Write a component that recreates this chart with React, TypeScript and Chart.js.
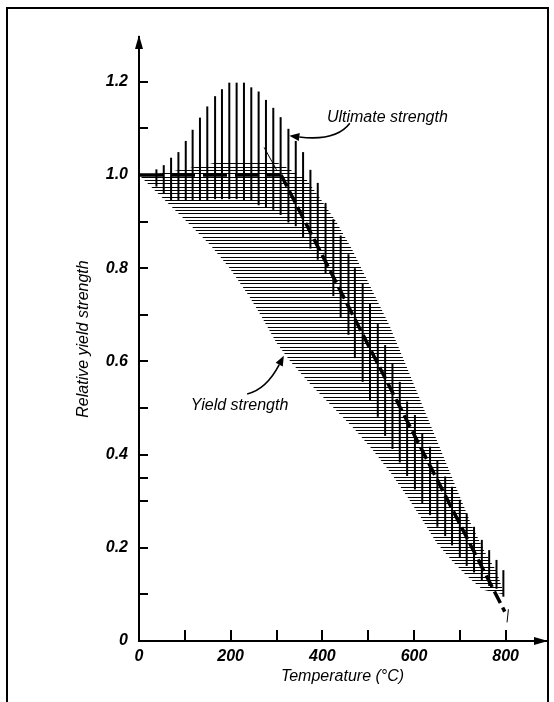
import React, { useEffect, useRef } from "react";
import { Chart, registerables } from "chart.js";

Chart.register(...registerables);

const FONT = '"Liberation Sans", Arial, Helvetica, sans-serif';

// Ultimate strength band: vertical hatch segments (temperature, low, high)
const ultimateTemps = [38, 54, 70, 86, 102, 117, 133, 149, 166, 181, 197, 213, 229, 245, 261, 277, 293, 309, 326, 342, 358, 374, 390, 407, 424, 440, 457, 471, 488, 504, 521, 537, 553, 569, 585, 602, 618, 635, 651, 668, 683, 700, 715, 731, 748, 764, 780, 795];
const ultimateHigh = [1.012, 1.021, 1.037, 1.049, 1.073, 1.097, 1.123, 1.147, 1.169, 1.184, 1.198, 1.198, 1.198, 1.188, 1.179, 1.161, 1.144, 1.124, 1.099, 1.073, 1.049, 1.011, 0.983, 0.94, 0.905, 0.87, 0.83, 0.8, 0.768, 0.725, 0.682, 0.635, 0.596, 0.556, 0.514, 0.485, 0.446, 0.417, 0.388, 0.353, 0.331, 0.303, 0.274, 0.245, 0.217, 0.195, 0.174, 0.152];
const ultimateLow = [0.975, 0.96, 0.945, 0.945, 0.945, 0.945, 0.945, 0.945, 0.948, 0.948, 0.948, 0.948, 0.945, 0.945, 0.935, 0.93, 0.925, 0.914, 0.898, 0.89, 0.866, 0.842, 0.818, 0.789, 0.74, 0.695, 0.657, 0.607, 0.556, 0.517, 0.481, 0.44, 0.412, 0.383, 0.354, 0.325, 0.296, 0.27, 0.245, 0.225, 0.205, 0.18, 0.161, 0.147, 0.13, 0.118, 0.112, 0.095];

// Yield strength band: upper and lower boundaries
const yieldUpperTemps = [0, 30, 122, 172, 300, 320, 340, 365, 395, 430, 465, 495, 525, 545, 575, 600, 625, 650, 675, 700, 725, 755, 780, 797];
const yieldUpperValues = [1.0, 1.0, 1.017, 1.027, 1.027, 1.017, 1.005, 0.99, 0.95, 0.9, 0.84, 0.78, 0.72, 0.68, 0.61, 0.55, 0.49, 0.43, 0.37, 0.31, 0.25, 0.19, 0.15, 0.1];
const yieldLowerTemps = [0, 52, 104, 155, 198, 240, 265, 300, 330, 375, 425, 470, 510, 550, 585, 615, 650, 685, 715, 750, 797];
const yieldLowerValues = [1.0, 0.95, 0.9, 0.85, 0.8, 0.74, 0.7, 0.64, 0.6, 0.55, 0.5, 0.455, 0.41, 0.36, 0.31, 0.265, 0.21, 0.17, 0.14, 0.11, 0.1];

// Dashed design curve
const trendTemps = [0, 310, 798];
const trendValues = [1.0, 1.0, 0.063];

// Axes
const xMax = 888;
const yMax = 1.296;
const xTickLabels = [0, 200, 400, 600, 800];
const xTickMarks = [100, 200, 300, 400, 500, 600, 700, 800];
const yTickLabels = [0, 0.2, 0.4, 0.6, 0.8, 1.0, 1.2];
const yTickMarks = [0.1, 0.2, 0.3, 0.35, 0.4, 0.5, 0.6, 0.7, 0.8, 0.9, 1.0, 1.1, 1.2];

// Annotations (data coordinates)
const noteLabels = ["Ultimate strength", "Yield strength"];
const noteTemps = [410, 113];
const noteValues = [1.124, 0.505];
const arrowUltimate = [[460, 1.111], [430, 1.072], [328, 1.084]];
const arrowYield = [[236, 0.53], [278, 0.54], [316, 0.612]];
const leaderLine = [[273, 1.059], [300, 1.011]];
const endMark = [[803, 0.04], [806, 0.068]];

const decorPlugin = {
  id: "decor",
  afterDatasetsDraw(chart: any) {
    const { ctx, chartArea: a, scales } = chart;
    const px = (t: number) => scales.x.getPixelForValue(t);
    const py = (v: number) => scales.y.getPixelForValue(v);
    ctx.save();
    ctx.strokeStyle = "#000";
    ctx.fillStyle = "#000";
    ctx.lineWidth = 2;
    ctx.beginPath();
    for (const v of yTickMarks) {
      const yy = Math.round(py(v));
      ctx.moveTo(a.left, yy);
      ctx.lineTo(a.left + 9, yy);
    }
    for (const t of xTickMarks) {
      const xx = Math.round(px(t));
      ctx.moveTo(xx, a.bottom);
      ctx.lineTo(xx, a.bottom - 11);
    }
    ctx.stroke();
    // axis arrowheads
    ctx.beginPath();
    ctx.moveTo(a.left, a.top - 2);
    ctx.lineTo(a.left - 4, a.top + 12);
    ctx.lineTo(a.left + 4, a.top + 12);
    ctx.closePath();
    ctx.fill();
    ctx.beginPath();
    ctx.moveTo(a.right + 2, a.bottom);
    ctx.lineTo(a.right - 12, a.bottom - 4);
    ctx.lineTo(a.right - 12, a.bottom + 4);
    ctx.closePath();
    ctx.fill();
    // annotation text
    ctx.font = `italic 16px ${FONT}`;
    ctx.textBaseline = "middle";
    ctx.textAlign = "left";
    noteLabels.forEach((s, i) => ctx.fillText(s, px(noteTemps[i]), py(noteValues[i])));
    // curved arrows
    ctx.lineWidth = 1.6;
    for (const ar of [arrowUltimate, arrowYield]) {
      const [s, c, e] = ar.map((p) => [px(p[0]), py(p[1])]);
      const ang = Math.atan2(e[1] - c[1], e[0] - c[0]);
      const L = 10, W = 4;
      const bx = e[0] - Math.cos(ang) * L, by = e[1] - Math.sin(ang) * L;
      ctx.beginPath();
      ctx.moveTo(s[0], s[1]);
      ctx.quadraticCurveTo(c[0], c[1], bx, by);
      ctx.stroke();
      ctx.beginPath();
      ctx.moveTo(e[0], e[1]);
      ctx.lineTo(bx - Math.sin(ang) * W, by + Math.cos(ang) * W);
      ctx.lineTo(bx + Math.sin(ang) * W, by - Math.cos(ang) * W);
      ctx.closePath();
      ctx.fill();
    }
    ctx.lineWidth = 1;
    for (const seg of [leaderLine, endMark]) {
      ctx.beginPath();
      ctx.moveTo(px(seg[0][0]), py(seg[0][1]));
      ctx.lineTo(px(seg[1][0]), py(seg[1][1]));
      ctx.stroke();
    }
    ctx.restore();
  },
};

function makeHatch(): any {
  const c = document.createElement("canvas");
  c.width = 4;
  c.height = 10;
  const g = c.getContext("2d");
  if (!g) return "#666";
  g.fillStyle = "#000";
  [0, 3, 7].forEach((r) => g.fillRect(0, r, 4, 1));
  return g.createPattern(c, "repeat") || "#666";
}

export default function App() {
  const ref = useRef<HTMLCanvasElement | null>(null);
  useEffect(() => {
    if (!ref.current) return;
    const hatch = makeHatch();
    const tickFont = { family: FONT, size: 16, style: "italic" as const, weight: "bold" as const };
    const titleFont = { family: FONT, size: 16, style: "italic" as const };
    const chart = new Chart(ref.current, {
      type: "line",
      data: {
        datasets: [
          {
            type: "line",
            label: "Yield strength",
            data: yieldUpperTemps.map((t, i) => ({ x: t, y: yieldUpperValues[i] })),
            borderColor: "rgba(0,0,0,0)",
            borderWidth: 0,
            pointRadius: 0,
            tension: 0,
            fill: "+1",
            backgroundColor: hatch,
          },
          {
            type: "line",
            label: "Yield strength (lower)",
            data: yieldLowerTemps.map((t, i) => ({ x: t, y: yieldLowerValues[i] })),
            borderColor: "rgba(0,0,0,0)",
            borderWidth: 0,
            pointRadius: 0,
            tension: 0,
            fill: false,
          },
          {
            type: "bar",
            label: "Ultimate strength",
            data: ultimateTemps.map((t, i) => ({ x: t, y: [ultimateLow[i], ultimateHigh[i]] })),
            backgroundColor: "#000",
            borderWidth: 0,
            barThickness: 2,
            inflateAmount: 0,
            grouped: false,
          },
          {
            type: "line",
            label: "Design curve",
            data: trendTemps.map((t, i) => ({ x: t, y: trendValues[i] })),
            borderColor: "#000",
            borderWidth: 3.5,
            pointRadius: 0,
            tension: 0,
            fill: false,
            segment: {
              borderDash: (ctx: any) => (ctx.p0DataIndex === 0 ? [24, 8] : [13, 5]),
            },
          },
        ] as any,
      },
      options: {
        animation: false,
        responsive: true,
        maintainAspectRatio: false,
        events: [],
        layout: { padding: { left: 0, right: 8, top: 37, bottom: 0 } },
        plugins: { legend: { display: false }, tooltip: { enabled: false } },
        scales: {
          x: {
            type: "linear",
            min: 0,
            max: xMax,
            offset: false,
            grid: { display: false, drawTicks: false },
            border: { display: true, color: "#000", width: 2 },
            afterBuildTicks: (s: any) => {
              s.ticks = xTickLabels.map((v) => ({ value: v }));
            },
            afterFit: (s: any) => {
              s.height = 61;
            },
            ticks: {
              color: "#000",
              padding: 6,
              autoSkip: false,
              maxRotation: 0,
              font: tickFont,
              callback: (v: any) => String(v),
            },
            title: {
              display: true,
              text: "Temperature (°C)",
              color: "#000",
              font: titleFont,
              padding: { top: 0, bottom: 16 },
            },
          },
          y: {
            type: "linear",
            min: 0,
            max: yMax,
            grid: { display: false, drawTicks: false },
            border: { display: true, color: "#000", width: 2 },
            afterBuildTicks: (s: any) => {
              s.ticks = yTickLabels.map((v) => ({ value: v }));
            },
            afterFit: (s: any) => {
              s.width = 139;
            },
            ticks: {
              color: "#000",
              padding: 11,
              autoSkip: false,
              font: tickFont,
              callback: (v: any) => (Number(v) === 0 ? "0" : Number(v).toFixed(1)),
            },
            title: {
              display: true,
              text: "Relative yield strength",
              color: "#000",
              font: titleFont,
              padding: { top: 74, bottom: 0 },
            },
          },
        },
      } as any,
      plugins: [decorPlugin],
    });
    return () => chart.destroy();
  }, []);

  return (
    <div style={{ position: "fixed", left: 0, top: 0, width: 554, height: 702, background: "#fff", overflow: "hidden" }}>
      <div
        style={{
          position: "absolute",
          left: 6,
          top: 7,
          width: 539,
          height: 720,
          borderLeft: "2px solid #000",
          borderTop: "2px solid #000",
          borderRight: "2px solid #000",
          boxSizing: "content-box",
        }}
      />
      <div style={{ position: "absolute", left: 0, top: 0, width: 554, height: 702 }}>
        <canvas ref={ref} />
      </div>
    </div>
  );
}
